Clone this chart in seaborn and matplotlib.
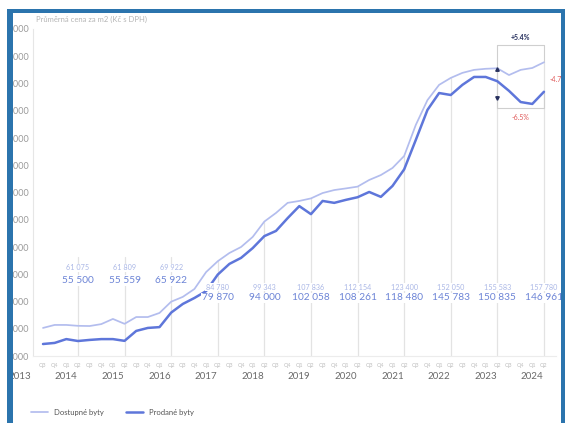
import numpy as np
import pandas as pd
import matplotlib
matplotlib.use("Agg")
import matplotlib.pyplot as plt
import seaborn as sns
from matplotlib.patches import Rectangle
from matplotlib.lines import Line2D

# ---------------- data ----------------
quarters = (["Q3", "Q4"] + ["Q1", "Q2", "Q3", "Q4"] * 10 + ["Q1", "Q2"])
years = ["2013", "2014", "2015", "2016", "2017", "2018", "2019",
         "2020", "2021", "2022", "2023", "2024"]
asking = [60300, 61400, 61400, 61075, 61000, 61700, 63600, 61809,
          64300, 64300, 65800, 69922, 71700, 74600, 80800, 84780,
          87800, 90000, 93700, 99343, 102500, 106200, 106900, 107836,
          109800, 110900, 111500, 112154, 114600, 116400, 119000, 123400,
          134800, 143900, 149500, 152050, 153900, 155000, 155400, 155583,
          153100, 155000, 155700, 157780]
sold = [54400, 54800, 56200, 55500, 55900, 56200, 56200, 55559,
        59200, 60300, 60600, 65922, 69100, 71300, 73800, 79870,
        83800, 86000, 89600, 94000, 95900, 100600, 105000, 102058,
        106900, 106200, 107300, 108261, 110200, 108400, 112400, 118480,
        129300, 140300, 146500, 145783, 149500, 152400, 152400, 150835,
        147300, 143200, 142500, 146961]
label_asking = ["61 075", "61 809", "69 922", "84 780", "99 343", "107 836",
                "112 154", "123 400", "152 050", "155 583", "157 780"]
label_sold = ["55 500", "55 559", "65 922", "79 870", "94 000", "102 058",
              "108 261", "118 480", "145 783", "150 835", "146 961"]
series_names = ["Dostupné byty", "Prodané byty"]
title = "Průměrná cena za m2 (Kč s DPH)"

# ---------------- style ----------------
sns.set_theme(style="white")
plt.rcParams["font.family"] = ["Lato", "DejaVu Sans"]

c_ask = "#b3bdee"
c_sold = "#5e76da"
c_lab_top = "#aab7e6"
c_lab_bot = "#6c84d6"
c_grid = "#e3e3e3"
c_border = "#2b74ad"

n = len(asking)
idx = np.arange(n)
df = pd.DataFrame({
    "i": np.concatenate([idx, idx]),
    "value": asking + sold,
    "series": [series_names[0]] * n + [series_names[1]] * n,
})

W, H = 565, 423
fig = plt.figure(figsize=(W / 100, H / 100), dpi=100)
fig.patch.set_facecolor("white")

px_per_q = 11.65
x0_px = 43
ax_left_px, ax_right_px = 33, 556
ax_top_px, ax_bot_px = 29, 356
ax = fig.add_axes([ax_left_px / W, (H - ax_bot_px) / H,
                   (ax_right_px - ax_left_px) / W, (ax_bot_px - ax_top_px) / H])
ax.set_xlim((ax_left_px - x0_px) / px_per_q, (ax_right_px - x0_px) / px_per_q)
ax.set_ylim(50000, 170000)

# vertical guide lines at Q2 of each year
q2_idx = [i for i in range(n) if quarters[i] == "Q2"]
for k, i in enumerate(q2_idx):
    top = 86500 if k < 3 else asking[i]
    ax.plot([i, i], [50000, top], color=c_grid, lw=0.9, zorder=1)

sns.lineplot(data=df, x="i", y="value", hue="series",
             palette=[c_ask, c_sold], ax=ax, legend=False, zorder=3)
lines = ax.get_lines()
lines[-2].set_linewidth(1.25)
lines[-1].set_linewidth(1.8)

# value labels
for k, i in enumerate(q2_idx):
    if k < 3:
        y_top, y_bot = 82300, 77600
    else:
        y_top, y_bot = 75300, 71300
    ax.text(i, y_top, label_asking[k], ha="center", va="center",
            fontsize=5.2, color=c_lab_top, zorder=4,
            bbox=dict(facecolor="white", edgecolor="none", pad=0.6))
    ax.text(i, y_bot, label_sold[k], ha="center", va="center",
            fontsize=7.3, color=c_lab_bot, zorder=4,
            bbox=dict(facecolor="white", edgecolor="none", pad=0.6))

# change bracket
il, ir = 39, 43
yt, yb = 164100, 141000
bc = "#cfcfcf"
ax.plot([il, ir], [yt, yt], color=bc, lw=0.8, zorder=2)
ax.plot([il, ir], [yb, yb], color=bc, lw=0.8, zorder=2)
ax.plot([il, il], [yb, yt], color=bc, lw=0.8, zorder=2)
ax.plot([ir, ir], [asking[ir], yt], color=bc, lw=0.8, zorder=2)
ax.plot([ir, ir], [yb, sold[ir]], color=bc, lw=0.8, zorder=2)
ax.plot([il], [155300], marker="^", ms=2.5, color="#27305e", zorder=5)
ax.plot([il], [144600], marker="v", ms=2.5, color="#27305e", zorder=5)
ax.text((il + ir) / 2, 167000, "+5.4%", ha="center", va="center",
        fontsize=5, color="#27305e", fontweight="bold")
ax.text((il + ir) / 2, 137600, "-6.5%", ha="center", va="center",
        fontsize=5, color="#e05a5a")
ax.text(43.5, 151300, "-4.7%", ha="left", va="center",
        fontsize=5, color="#e05a5a", clip_on=False)

# axes styling
for s in ["top", "right"]:
    ax.spines[s].set_visible(False)
ax.spines["left"].set_color("#e6e6e6")
ax.spines["left"].set_linewidth(0.8)
ax.spines["bottom"].set_color("#ececec")
ax.spines["bottom"].set_linewidth(0.8)
yt_vals = np.arange(50000, 170001, 10000)
ax.set_yticks(yt_vals)
ax.set_yticklabels([f"{v:,}".replace(",", " ") for v in yt_vals])
ax.tick_params(axis="y", direction="in", length=7, width=0.8, color="#d0d0d0",
               labelsize=6.5, labelcolor="#9a9a9a", pad=3)
ax.set_xticks(idx)
ax.set_xticklabels(quarters)
ax.tick_params(axis="x", direction="inout", length=4, width=0.7, color="#e8e2c0",
               labelsize=4, labelcolor="#bdbdbd", pad=3)
ax.set_xlabel("")
ax.set_ylabel("")
for k, yr in enumerate(years):
    ax.text(4 * k - 2, -0.063, yr, transform=ax.get_xaxis_transform(),
            ha="center", va="center", fontsize=7, color="#6a6a6a", clip_on=False)

fig.text(36 / W, 1 - 19 / H, title, ha="left", va="center",
         fontsize=5.5, color="#b5b5b5")

# legend
handles = [Line2D([], [], color=c_ask, lw=1.25), Line2D([], [], color=c_sold, lw=1.8)]
fig.legend(handles, series_names, loc="center left",
           bbox_to_anchor=(24 / W, 1 - 412 / H), ncol=2, frameon=False,
           fontsize=5.5, handlelength=2.2, columnspacing=3.0,
           labelcolor="#555555")

# frame border
fig.patches.append(Rectangle((0, 0), 7 / W, 1, transform=fig.transFigure,
                             facecolor="white", edgecolor="none", zorder=9))
fig.patches.append(Rectangle((0, 1 - 9 / H), 1, 9 / H, transform=fig.transFigure,
                             facecolor="white", edgecolor="none", zorder=9))
fig.patches.append(Rectangle((7 / W, 0), 6 / W, 1 - 9 / H, transform=fig.transFigure,
                             facecolor=c_border, edgecolor="none", zorder=10))
fig.patches.append(Rectangle((7 / W, 1 - 13 / H), 1, 4 / H, transform=fig.transFigure,
                             facecolor=c_border, edgecolor="none", zorder=10))
fig.patches.append(Rectangle((561 / W, 0), 4 / W, 1 - 9 / H, transform=fig.transFigure,
                             facecolor=c_border, edgecolor="none", zorder=10))

fig.savefig("out.png", dpi=100)
